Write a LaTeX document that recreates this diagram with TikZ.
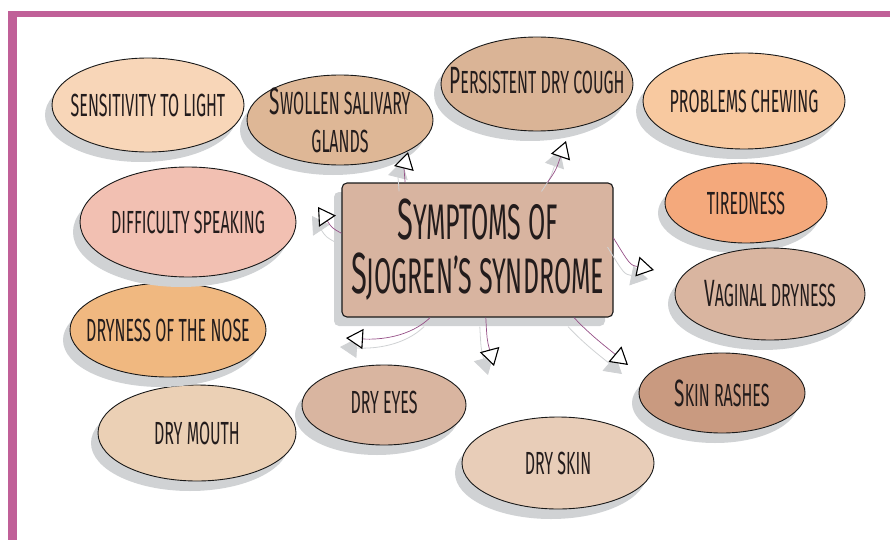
\documentclass[tikz,border=0pt]{standalone}
\usepackage{fontspec}
\newfontfamily\handfont[FakeStretch=0.5]{Fira Sans}
\usetikzlibrary{arrows.meta,shapes.geometric,shadows}

\definecolor{framepink}{RGB}{192,96,152}
\definecolor{shadowgray}{RGB}{208,210,212}
\definecolor{linkpurple}{RGB}{150,80,135}
\definecolor{inkdark}{RGB}{35,28,28}
\definecolor{titlefill}{RGB}{216,180,160}
\definecolor{lightfill}{RGB}{248,214,184}
\definecolor{glandsfill}{RGB}{222,183,150}
\definecolor{coughfill}{RGB}{218,180,150}
\definecolor{chewfill}{RGB}{248,201,160}
\definecolor{tiredfill}{RGB}{244,169,124}
\definecolor{vaginafill}{RGB}{217,181,160}
\definecolor{rashfill}{RGB}{201,154,128}
\definecolor{skinfill}{RGB}{232,205,184}
\definecolor{eyesfill}{RGB}{217,181,160}
\definecolor{mouthfill}{RGB}{235,208,181}
\definecolor{nosefill}{RGB}{240,184,128}
\definecolor{speakfill}{RGB}{242,192,178}

\newcommand{\capletter}[1]{{\fontsize{38}{38}\selectfont #1}}
\newcommand{\bigcapletter}[1]{{\fontsize{58}{58}\selectfont #1}}

\tikzset{
  symptom/.style={ellipse, draw=black!90, line width=0.9pt, inner sep=0pt,
    drop shadow={shadow xshift=-7pt, shadow yshift=-10pt, fill=shadowgray, opacity=1}},
  symlabel/.style={font=\handfont\fontsize{32}{38}\selectfont, text=inkdark, align=center},
  titlebox/.style={rectangle, rounded corners=5pt, draw=black!90, line width=1.1pt,
    fill=titlefill, minimum width=271pt, minimum height=134pt, align=center,
    font=\handfont\fontsize{50}{54}\selectfont, text=inkdark,
    drop shadow={shadow xshift=-8pt, shadow yshift=-9pt, fill=shadowgray, opacity=1}},
  link/.style={draw=linkpurple, line width=0.7pt,
    -{Triangle[color=black, fill=white, length=17pt, width=20pt, line width=1.1pt]},
    preaction={draw=shadowgray, line width=0.8pt, transform canvas={shift={(-6pt,-9pt)}},
      -{Triangle[length=17pt, width=20pt]}}}
}

\begin{document}
\begin{tikzpicture}[x=1pt, y=-1pt]
  \useasboundingbox (0,0) rectangle (890,540);
  % frame
  \fill[framepink] (8,11) rectangle (890,17);
  \fill[framepink] (8,11) rectangle (17,540);

  % symptoms
  \node[symptom, fill=lightfill, minimum width=192pt, minimum height=94pt,
    label={[symlabel]center:SENSITIVITY TO LIGHT}] (light) at (148,105) {};
  \node[symptom, fill=glandsfill, minimum width=186pt, minimum height=90pt,
    label={[symlabel]center:{\capletter{S}WOLLEN SALIVARY\\GLANDS}}] (glands) at (340,120) {};
  \node[symptom, fill=coughfill, minimum width=192pt, minimum height=94pt,
    label={[symlabel, yshift=3pt]center:\capletter{P}ERSISTENT DRY COUGH}] (cough) at (537,84) {};
  \node[symptom, fill=chewfill, minimum width=202pt, minimum height=96pt,
    label={[symlabel]center:PROBLEMS CHEWING}] (chewing) at (744,101) {};
  \node[symptom, fill=tiredfill, minimum width=162pt, minimum height=80pt,
    label={[symlabel]center:TIREDNESS}] (tired) at (746,203) {};
  \node[symptom, fill=vaginafill, minimum width=190pt, minimum height=92pt,
    label={[symlabel]center:\capletter{V}AGINAL DRYNESS}] (vaginal) at (770,294) {};
  \node[symptom, fill=rashfill, minimum width=166pt, minimum height=80pt,
    label={[symlabel]center:\capletter{S}KIN RASHES}] (rashes) at (722,393) {};
  \node[symptom, fill=skinfill, minimum width=192pt, minimum height=92pt,
    label={[symlabel]center:DRY SKIN}] (skin) at (558,463) {};
  \node[symptom, fill=eyesfill, minimum width=164pt, minimum height=80pt,
    label={[symlabel, yshift=3pt]center:DRY EYES}] (eyes) at (384,405) {};
  \node[symptom, fill=mouthfill, minimum width=198pt, minimum height=96pt,
    label={[symlabel]center:DRY MOUTH}] (mouth) at (197,433) {};
  \node[symptom, fill=nosefill, minimum width=196pt, minimum height=94pt,
    label={[symlabel]center:DRYNESS OF THE NOSE}] (nose) at (168,330) {};
  \node[symptom, fill=speakfill, minimum width=216pt, minimum height=110pt,
    label={[symlabel]center:DIFFICULTY SPEAKING}] (speaking) at (188,222) {};

  % centre
  \node[titlebox] (title) at (477.5,250)
    {\bigcapletter{S}YMPTOMS OF\\\bigcapletter{S}JOGREN’S SYNDROME};

  % arrow ends
  \coordinate (tipglands) at (408,152);
  \coordinate (tipcough) at (566,141);
  \coordinate (tipspeak) at (318,207);
  \coordinate (tipnose) at (346,338);
  \coordinate (tipeyes) at (494,366);
  \coordinate (tiprash) at (628,365);
  \coordinate (tipvagina) at (654,270);

  \draw[link] (title.137) .. controls (404,168) .. (tipglands);
  \draw[link] (title.44) .. controls (556,170) .. (tipcough);
  \draw[link] (title.173) .. controls (332,228) .. (tipspeak);
  \draw[link] (title.235) .. controls (410,337) and (380,340) .. (tipnose);
  \draw[link] (title.277) .. controls (487,340) .. (tipeyes);
  \draw[link] (title.325) .. controls (590,335) and (610,350) .. (tiprash);
  \draw[link] (title.5) .. controls (630,265) .. (tipvagina);
\end{tikzpicture}
\end{document}
